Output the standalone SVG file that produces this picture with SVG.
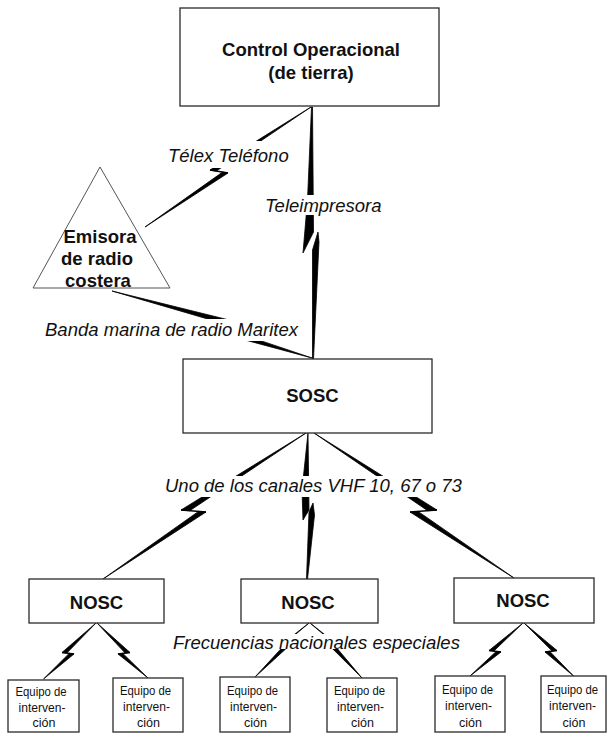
<svg xmlns="http://www.w3.org/2000/svg" width="609" height="733" viewBox="0 0 609 733">
<style>
.box{fill:#fff;stroke:#2a2a2a;stroke-width:1.3}
.tri{fill:#fff;stroke:#555;stroke-width:1}
.bolt polygon{fill:#000;stroke:#000;stroke-width:0.8;stroke-linejoin:round}
.bolt line{stroke:#000;stroke-width:1.6}
.bg{fill:#fff}
.t{font-family:"Liberation Sans",Arial,sans-serif;fill:#111}
.lbl{font-style:italic;font-size:18.5px}
.b{font-weight:bold;font-size:18.5px;text-anchor:middle}
.eq{font-size:13.5px;text-anchor:middle}
</style>
<rect width="609" height="733" fill="#fff"/>
<g id="connectors">
  <g id="c-telex" class="bolt">
    <polygon points="311,107 210,170 216.3,171.1"/>
    <line x1="210" y1="170" x2="228" y2="173"/>
    <polygon points="222.6,172.1 228,173 145,227"/>
  </g>
  <g id="c-teleimpresora" class="bolt">
    <polygon points="311.5,107 312.5,107 313.5,232 303,253 307.5,200"/>
    <polygon points="318,232 319,242 313.5,359 312.5,359 312.5,250"/>
  </g>
  <g id="c-banda" class="bolt">
    <polygon points="112,291 240,322.7 234.8,326.9"/>
    <line x1="240" y1="322.7" x2="225" y2="334.6"/>
    <polygon points="230.3,330.4 225,334.6 312,358"/>
  </g>
  <g id="c-sosc-nosc1" class="bolt">
    <polygon points="306,433 181,510 189.8,510.7"/>
    <line x1="181" y1="510" x2="206" y2="512"/>
    <polygon points="198.5,511.4 206,512 103,579"/>
  </g>
  <g id="c-sosc-nosc2" class="bolt">
    <polygon points="308,433 309,510 303,520 302,490"/>
    <polygon points="313,503 314.5,515 307.5,579 306.5,579 309,512"/>
  </g>
  <g id="c-sosc-nosc3" class="bolt">
    <polygon points="314,433 437,510 427.6,510.7"/>
    <line x1="437" y1="510" x2="410" y2="512"/>
    <polygon points="418.1,511.4 410,512 514,578"/>
  </g>
  <g id="c-nosc1-eq1" class="bolt">
    <polygon points="96,623 62,652.5 66.8,653.1"/>
    <line x1="62" y1="652.5" x2="74" y2="654"/>
    <polygon points="69.2,653.4 74,654 43.5,679"/>
  </g>
  <g id="c-nosc1-eq2" class="bolt">
    <polygon points="97,623 130,652.5 125.2,653.1"/>
    <line x1="130" y1="652.5" x2="118" y2="654"/>
    <polygon points="122.8,653.4 118,654 148,678"/>
  </g>
  <g id="c-nosc2-eq3" class="bolt">
    <polygon points="309,623 284.8,642 286.3,642.2"/>
    <line x1="284.8" y1="642" x2="292.2" y2="643"/>
    <polygon points="287,642.3 292.2,643 255,677"/>
  </g>
  <g id="c-nosc2-eq4" class="bolt">
    <polygon points="310,623 334.2,642 332.7,642.2"/>
    <line x1="334.2" y1="642" x2="326.8" y2="643"/>
    <polygon points="332,642.3 326.8,643 362,678"/>
  </g>
  <g id="c-nosc3-eq5" class="bolt">
    <polygon points="523,623 489,650.5 493.8,651.1"/>
    <line x1="489" y1="650.5" x2="501" y2="652"/>
    <polygon points="496.2,651.4 501,652 470,676"/>
  </g>
  <g id="c-nosc3-eq6" class="bolt">
    <polygon points="524,623 557,650.5 552.2,651.1"/>
    <line x1="557" y1="650.5" x2="545" y2="652"/>
    <polygon points="549.8,651.4 545,652 573.5,676"/>
  </g>
</g>
<g id="labels">
  <g id="l-telex"><rect class="bg" x="165" y="141" width="128" height="27"/><text class="t lbl" x="168" y="162">Télex Teléfono</text></g>
  <g id="l-teleimpresora"><rect class="bg" x="263" y="195" width="122" height="20"/><text class="t lbl" x="265" y="212">Teleimpresora</text></g>
  <g id="l-banda"><rect class="bg" x="42" y="319" width="259" height="22"/><text class="t lbl" x="45" y="336">Banda marina de radio Maritex</text></g>
  <g id="l-vhf"><rect class="bg" x="162" y="476" width="305" height="21"/><text class="t lbl" x="165" y="492">Uno de los canales VHF 10, 67 o 73</text></g>
  <g id="l-frec"><rect class="bg" x="170" y="634" width="296" height="15"/><text class="t lbl" x="173" y="649">Frecuencias nacionales especiales</text></g>
</g>
<g id="n-control">
  <rect class="box" x="180" y="8" width="259" height="98"/>
  <text class="t b" x="311" y="56">Control Operacional</text>
  <text class="t b" x="311" y="79">(de tierra)</text>
</g>
<g id="n-emisora">
  <polygon class="tri" points="100,167 33,288 170,288"/>
  <text class="t b" x="100" y="243">Emisora</text>
  <text class="t b" x="97" y="265">de radio</text>
  <text class="t b" x="98" y="287">costera</text>
</g>
<g id="n-sosc">
  <rect class="box" x="183" y="359" width="249" height="74"/>
  <text class="t b" x="312.5" y="402">SOSC</text>
</g>
<g id="n-nosc1">
  <rect class="box" x="29" y="579" width="135" height="44"/>
  <text class="t b" x="96.5" y="609">NOSC</text>
</g>
<g id="n-nosc2">
  <rect class="box" x="241" y="579" width="137" height="44"/>
  <text class="t b" x="308" y="609">NOSC</text>
</g>
<g id="n-nosc3">
  <rect class="box" x="454" y="578" width="140" height="45"/>
  <text class="t b" x="523" y="607">NOSC</text>
</g>
<g id="n-eq1">
  <rect class="box" x="8" y="680" width="71" height="52"/>
  <text class="t eq" x="41" y="696" textLength="51" lengthAdjust="spacingAndGlyphs">Equipo de</text>
  <text class="t eq" x="42" y="712" textLength="47" lengthAdjust="spacingAndGlyphs">interven-</text>
  <text class="t eq" x="44" y="727" textLength="23" lengthAdjust="spacingAndGlyphs">ción</text>
</g>
<g id="n-eq2">
  <rect class="box" x="113" y="678" width="70" height="54"/>
  <text class="t eq" x="145.5" y="695" textLength="51" lengthAdjust="spacingAndGlyphs">Equipo de</text>
  <text class="t eq" x="146.5" y="711" textLength="47" lengthAdjust="spacingAndGlyphs">interven-</text>
  <text class="t eq" x="148.5" y="727" textLength="23" lengthAdjust="spacingAndGlyphs">ción</text>
</g>
<g id="n-eq3">
  <rect class="box" x="220" y="677" width="70" height="55"/>
  <text class="t eq" x="252.5" y="695" textLength="51" lengthAdjust="spacingAndGlyphs">Equipo de</text>
  <text class="t eq" x="253.5" y="711" textLength="47" lengthAdjust="spacingAndGlyphs">interven-</text>
  <text class="t eq" x="255.5" y="727" textLength="23" lengthAdjust="spacingAndGlyphs">ción</text>
</g>
<g id="n-eq4">
  <rect class="box" x="327" y="678" width="70" height="54"/>
  <text class="t eq" x="359.5" y="695" textLength="51" lengthAdjust="spacingAndGlyphs">Equipo de</text>
  <text class="t eq" x="360.5" y="711" textLength="47" lengthAdjust="spacingAndGlyphs">interven-</text>
  <text class="t eq" x="362.5" y="727" textLength="23" lengthAdjust="spacingAndGlyphs">ción</text>
</g>
<g id="n-eq5">
  <rect class="box" x="435" y="676" width="70" height="56"/>
  <text class="t eq" x="467.5" y="694" textLength="51" lengthAdjust="spacingAndGlyphs">Equipo de</text>
  <text class="t eq" x="468.5" y="710" textLength="47" lengthAdjust="spacingAndGlyphs">interven-</text>
  <text class="t eq" x="470.5" y="727" textLength="23" lengthAdjust="spacingAndGlyphs">ción</text>
</g>
<g id="n-eq6">
  <rect class="box" x="541" y="676" width="65" height="56"/>
  <text class="t eq" x="572.5" y="694" textLength="51" lengthAdjust="spacingAndGlyphs">Equipo de</text>
  <text class="t eq" x="572.5" y="710" textLength="47" lengthAdjust="spacingAndGlyphs">interven-</text>
  <text class="t eq" x="574" y="727" textLength="23" lengthAdjust="spacingAndGlyphs">ción</text>
</g>
</svg>
